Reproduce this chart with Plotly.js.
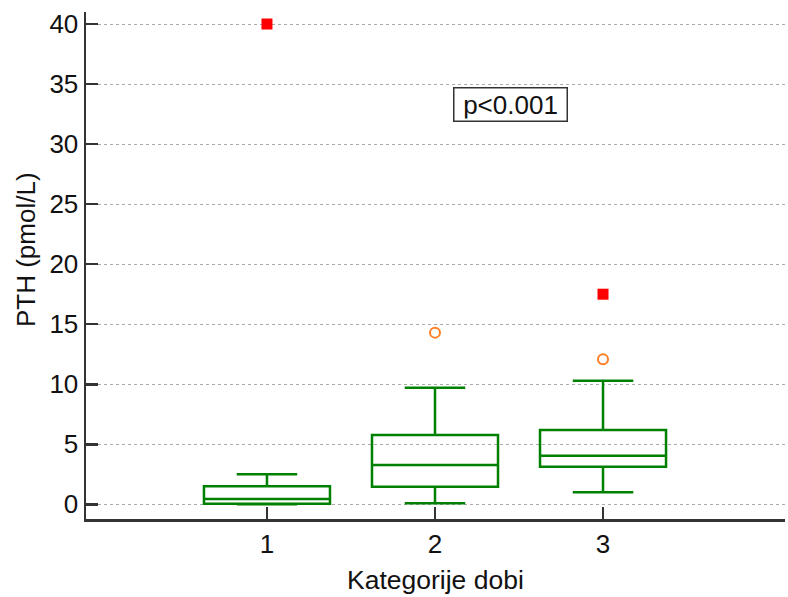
<!DOCTYPE html>
<html>
<head>
<meta charset="utf-8">
<script src="https://cdn.plot.ly/plotly-3.0.1.min.js"></script>
<style>html,body{margin:0;padding:0;background:#fff;}#chart{width:788px;height:597px;}</style>
</head>
<body>
<div id="chart"></div>
<script>
// Data
const categories = [1, 2, 3];
const tickLabels = ["1", "2", "3"];
const lowerWhisker = [0.0, 0.1, 1.0];
const q1 = [0.05, 1.47, 3.13];
const median = [0.45, 3.28, 4.05];
const q3 = [1.5, 5.78, 6.19];
const upperWhisker = [2.5, 9.72, 10.3];
// outliers
const farOutX = [1, 3];
const farOutY = [40.0, 17.5];
const outX = [2, 3];
const outY = [14.3, 12.08];
const annotationText = "p<0.001";
const xTitle = "Kategorije dobi";
const yTitle = "PTH (pmol/L)";

const green = "#008000";
const traces = [
  {
    type: "box",
    x: categories,
    q1: q1,
    median: median,
    q3: q3,
    lowerfence: lowerWhisker,
    upperfence: upperWhisker,
    boxpoints: false,
    width: 0.75,
    whiskerwidth: 0.48,
    line: {color: green, width: 2.5},
    fillcolor: "rgba(0,0,0,0)",
    hoverinfo: "skip",
    showlegend: false
  },
  {
    type: "scatter", mode: "markers",
    x: farOutX, y: farOutY,
    marker: {symbol: "square", size: 11, color: "#ff0000", line: {width: 0}},
    showlegend: false
  },
  {
    type: "scatter", mode: "markers",
    x: outX, y: outY,
    marker: {symbol: "circle-open", size: 10, color: "#ff7f27", line: {width: 2, color: "#ff7f27"}},
    showlegend: false
  }
];

const fam = "Liberation Sans, Arial, sans-serif";
const layout = {
  width: 788, height: 597,
  margin: {l: 86, r: 3, t: 12, b: 78},
  paper_bgcolor: "#fff", plot_bgcolor: "#fff",
  font: {family: fam, size: 26, color: "#111"},
  showlegend: false,
  xaxis: {
    range: [-0.077, 4.083],
    tickvals: categories,
    ticktext: tickLabels,
    ticks: "inside", ticklen: 12, tickwidth: 2.5, tickcolor: "#333",
    showline: true, linecolor: "#333", linewidth: 2.5,
    showgrid: false, zeroline: false,
    tickfont: {size: 26, color: "#111"}
  },
  yaxis: {
    range: [-1.22, 41.0],
    tickvals: [0, 5, 10, 15, 20, 25, 30, 35, 40],
    ticks: "inside", ticklen: 12, tickwidth: 2.5, tickcolor: "#333",
    showline: true, linecolor: "#333", linewidth: 2.5,
    showgrid: true, gridcolor: "#aaaaaa", gridwidth: 1, griddash: "dot",
    zeroline: false,
    tickfont: {size: 26, color: "#111"}
  },
  annotations: [
    {
      x: 2.45, y: 33.3, xref: "x", yref: "y",
      text: annotationText, showarrow: false,
      font: {size: 26, color: "#111"},
      width: 108, height: 28, align: "center",
      bordercolor: "#333", borderwidth: 1.5, borderpad: 2, bgcolor: "#fff"
    },
    {
      x: -0.0858, y: 0.5306, xref: "paper", yref: "paper",
      text: yTitle, textangle: -90, showarrow: false,
      xanchor: "center", yanchor: "middle",
      font: {size: 26, color: "#111"}
    },
    {
      x: 0.5, y: -0.1203, xref: "paper", yref: "paper",
      text: xTitle, showarrow: false,
      xanchor: "center", yanchor: "middle",
      font: {size: 26.5, color: "#111"}
    }
  ]
};
Plotly.newPlot("chart", traces, layout, {displayModeBar: false, staticPlot: true});
</script>
</body>
</html>
